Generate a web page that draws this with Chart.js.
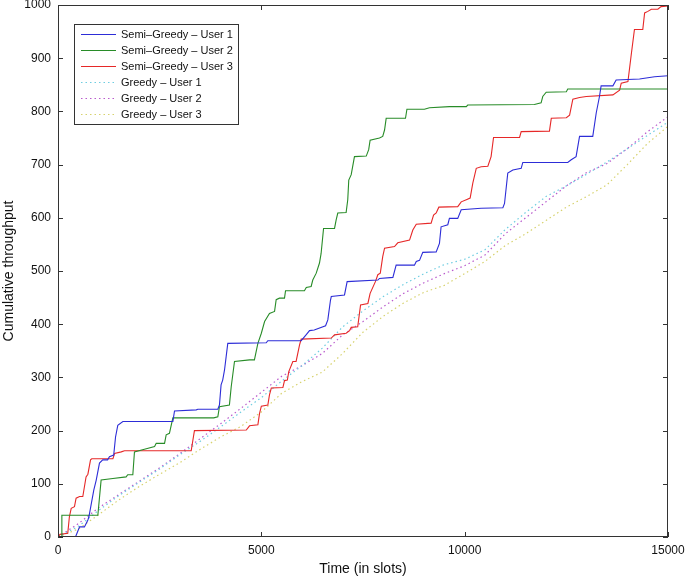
<!DOCTYPE html>
<html>
<head>
<meta charset="utf-8">
<script src="https://cdn.jsdelivr.net/npm/chart.js@4"></script>
<style>
  html, body { margin: 0; padding: 0; background: #fff; }
  #wrap { width: 685px; height: 579px; }
</style>
</head>
<body>
<div id="wrap"><canvas id="throughput-chart"></canvas></div>
<script>
// cumulative throughput, [slot, value]
const semiGreedyUser1 = [
  [0,0],[430,0],[530,19],[650,19],[735,32],[760,38],[880,88],[940,107],[1020,139],[1100,145],[1220,145],
  [1265,151],[1370,154],[1415,188],[1470,210],[1595,217],[2825,217],[2865,237],[3400,239],[3440,240],
  [3930,240],[3970,248],[4010,286],[4050,295],[4095,314],[4135,339],[4175,364],[5120,365],[5160,369],
  [5980,369],[6100,380],[6185,388],[6300,389],[6580,397],[6635,408],[6700,445],[6720,452],[7045,455],
  [7110,480],[7865,483],[7905,486],[8235,488],[8315,511],[8765,511],[8810,518],[8890,520],[8970,535],
  [9300,536],[9380,552],[9420,583],[9585,587],[9625,599],[9830,599],[9915,615],[10405,618],[10940,619],
  [10980,627],[11060,684],[11185,690],[11390,693],[11430,704],[12535,704],[12620,709],[12740,715],
  [12825,753],[13150,753],[13235,797],[13315,828],[13355,848],[13645,848],[13725,859],[14300,861],
  [14670,865],[15000,867]
];
const semiGreedyUser2 = [
  [0,0],[80,0],[95,41],[980,41],[1060,107],[1350,110],[1675,113],[1715,117],[1840,117],[1880,160],
  [2125,165],[2375,170],[2415,176],[2620,176],[2660,192],[2740,195],[2825,224],[3830,224],[3930,226],
  [3970,245],[4215,248],[4260,283],[4340,330],[4710,333],[4830,333],[4915,364],[5000,383],[5080,405],
  [5200,420],[5325,424],[5365,446],[5445,449],[5570,449],[5595,463],[6060,463],[6105,469],[6225,471],
  [6265,483],[6350,496],[6430,515],[6470,533],[6530,580],[6800,580],[6840,596],[6880,609],[7085,610],
  [7125,634],[7150,671],[7210,681],[7290,715],[7580,716],[7640,728],[7675,746],[7905,750],[7985,753],
  [8030,765],[8070,787],[8545,787],[8580,804],[9010,804],[9135,807],[9625,809],[10040,809],[10075,812],
  [11715,813],[11880,816],[11920,828],[12005,836],[12500,837],[12535,842],[15000,842]
];
const semiGreedyUser3 = [
  [0,0],[50,5],[240,7],[280,38],[325,54],[405,57],[445,73],[530,76],[610,76],[690,113],[735,118],
  [800,145],[830,147],[1350,147],[1390,157],[1555,160],[1635,162],[3275,162],[3355,200],[4630,201],
  [4710,209],[4915,211],[4955,232],[5000,246],[5160,248],[5200,267],[5245,280],[5530,281],[5570,294],
  [5640,295],[5675,311],[5775,330],[5855,330],[5940,361],[5980,372],[6720,374],[6800,380],[7085,383],
  [7170,388],[7210,394],[7370,395],[7440,436],[7620,439],[7675,458],[7805,480],[7865,493],[7925,496],
  [7985,527],[8030,543],[8275,546],[8355,553],[8645,558],[8725,577],[8810,588],[9175,590],[9235,605],
  [9300,609],[9365,620],[9830,621],[9915,630],[10040,634],[10135,637],[10200,665],[10285,693],
  [10405,696],[10570,697],[10650,715],[10710,751],[11350,751],[11390,762],[12085,763],[12130,787],
  [12500,788],[12580,793],[12660,823],[12825,826],[12990,828],[13645,831],[13810,840],[13850,853],
  [14015,856],[14095,906],[14175,954],[14380,954],[14425,985],[14505,988],[14590,992],[14750,992],
  [14830,997],[15000,998]
];

const greedyTimes = [0,500,1000,1500,2000,2500,3000,3500,4000,4500,5000,5500,6000,6500,7000,7500,
  8000,8500,9000,9500,10000,10500,11000,11500,12000,12500,13000,13500,14000,14500,15000];
const greedyUser1 = [0,20,50,78,103,128,155,180,207,235,262,293,322,355,395,425,452,475,495,512,
  522,540,578,610,640,660,682,705,730,755,780];
const greedyUser2 = [0,25,55,80,105,130,157,185,213,242,272,302,322,345,380,405,433,458,478,495,
  510,530,570,600,630,660,685,702,730,762,790];
const greedyUser3 = [0,15,42,70,95,118,140,165,188,208,235,270,292,310,345,385,415,440,460,473,
  495,518,548,570,595,620,640,662,700,740,772];

const xTicks = [0, 5000, 10000, 15000];

const toPoints = pairs => pairs.map(p => ({ x: p[0], y: p[1] }));
const greedyPoints = vals => greedyTimes.map((t, i) => ({ x: t, y: vals[i] }));

const FONT = '"Liberation Sans", Arial, Helvetica, sans-serif';

// box, inward ticks on all four sides and the legend inside the plot
const framePlugin = {
  id: 'frame',
  afterDatasetsDraw(chart) {
    const { ctx, chartArea: a, scales: { x, y } } = chart;
    ctx.save();
    ctx.strokeStyle = '#333';
    ctx.lineWidth = 1;
    ctx.beginPath();
    y.ticks.forEach(t => {
      const py = Math.round(y.getPixelForValue(t.value)) + 0.5;
      ctx.moveTo(a.left, py); ctx.lineTo(a.left + 5, py);
      ctx.moveTo(a.right, py); ctx.lineTo(a.right - 5, py);
    });
    x.ticks.forEach(t => {
      const px = Math.round(x.getPixelForValue(t.value)) + 0.5;
      ctx.moveTo(px, a.bottom); ctx.lineTo(px, a.bottom - 5);
      ctx.moveTo(px, a.top); ctx.lineTo(px, a.top + 5);
    });
    ctx.stroke();
    ctx.strokeRect(Math.round(a.left) + 0.5, Math.round(a.top) + 0.5,
      Math.round(a.right - a.left) - 1, Math.round(a.bottom - a.top) - 1);

    // legend
    const bx = Math.round(a.left) + 16, by = Math.round(a.top) + 19, bw = 164, bh = 100;
    ctx.fillStyle = '#fff';
    ctx.fillRect(bx, by, bw, bh);
    ctx.strokeRect(bx + 0.5, by + 0.5, bw, bh);
    ctx.font = '11px ' + FONT;
    ctx.textBaseline = 'middle';
    chart.data.datasets.forEach((ds, i) => {
      const ry = by + 10.5 + i * 16;
      ctx.save();
      ctx.strokeStyle = ds.borderColor;
      ctx.lineWidth = 1;
      ctx.setLineDash(ds.borderDash || []);
      ctx.beginPath();
      ctx.moveTo(bx + 7, ry); ctx.lineTo(bx + 42, ry);
      ctx.stroke();
      ctx.restore();
      ctx.fillStyle = '#111';
      ctx.fillText(ds.label, bx + 47, ry);
    });
    ctx.restore();
  }
};

const ctx = document.getElementById('throughput-chart').getContext('2d');
new Chart(ctx, {
  type: 'line',
  data: {
    datasets: [
      { label: 'Semi\u2013Greedy \u2013 User 1', data: toPoints(semiGreedyUser1), borderColor: 'rgb(45,45,215)', borderWidth: 1.1 },
      { label: 'Semi\u2013Greedy \u2013 User 2', data: toPoints(semiGreedyUser2), borderColor: 'rgb(40,140,40)', borderWidth: 1.1 },
      { label: 'Semi\u2013Greedy \u2013 User 3', data: toPoints(semiGreedyUser3), borderColor: 'rgb(230,40,40)', borderWidth: 1.1 },
      { label: 'Greedy \u2013 User 1', data: greedyPoints(greedyUser1), borderColor: 'rgb(110,205,225)', borderWidth: 1.2, borderDash: [1.5, 3] },
      { label: 'Greedy \u2013 User 2', data: greedyPoints(greedyUser2), borderColor: 'rgb(185,90,205)', borderWidth: 1.2, borderDash: [1.5, 3] },
      { label: 'Greedy \u2013 User 3', data: greedyPoints(greedyUser3), borderColor: 'rgb(215,210,110)', borderWidth: 1.2, borderDash: [1.5, 3] }
    ]
  },
  options: {
    responsive: true,
    maintainAspectRatio: false,
    animation: false,
    elements: {
      point: { radius: 0 },
      line: { tension: 0, fill: false }
    },
    layout: { padding: { top: 5, right: 17, left: 0, bottom: 0 } },
    plugins: {
      legend: { display: false },
      tooltip: { enabled: false }
    },
    scales: {
      x: {
        type: 'linear',
        min: 0,
        max: 15000,
        afterBuildTicks: s => { s.ticks = xTicks.map(v => ({ value: v })); },
        afterFit: s => { s.height = 42; s.paddingLeft = 0; s.paddingRight = 0; },
        grid: { display: false, drawTicks: false },
        border: { display: false },
        ticks: { padding: 6, color: '#111', font: { family: FONT, size: 12 }, maxRotation: 0, callback: v => String(v) },
        title: { display: true, text: 'Time (in slots)', color: '#111', font: { family: FONT, size: 14 }, padding: { top: 0, bottom: 1 } }
      },
      y: {
        type: 'linear',
        min: 0,
        max: 1000,
        ticks: { stepSize: 100, padding: 7, color: '#111', font: { family: FONT, size: 12 }, callback: v => String(v) },
        afterFit: s => { s.width = 58; s.paddingTop = 0; s.paddingBottom = 0; },
        grid: { display: false, drawTicks: false },
        border: { display: false },
        title: { display: true, text: 'Cumulative throughput', color: '#111', font: { family: FONT, size: 14 }, padding: { top: 1, bottom: 0 } }
      }
    }
  },
  plugins: [framePlugin]
});
</script>
</body>
</html>
